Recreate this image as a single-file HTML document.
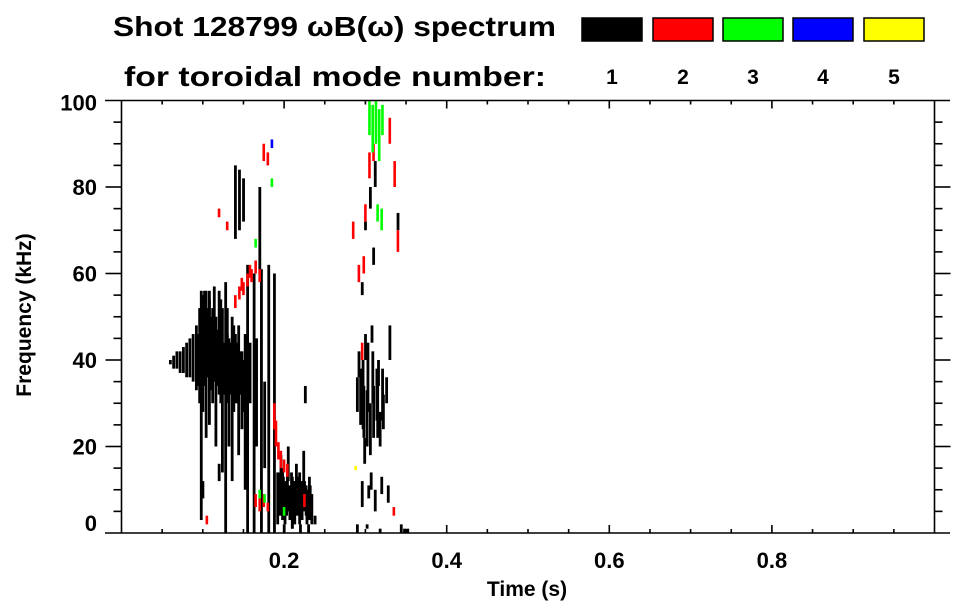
<!DOCTYPE html>
<html><head><meta charset="utf-8"><style>
html,body{margin:0;padding:0;background:#fff;}
svg{display:block;font-family:"Liberation Sans",Arial,sans-serif;font-weight:bold;}
</style></head><body>
<svg id="chart" width="963" height="615" viewBox="0 0 963 615" xmlns="http://www.w3.org/2000/svg">
<rect x="0" y="0" width="963" height="615" fill="#fff"/>
<g>
<text x="113" y="36" font-size="28" textLength="443" lengthAdjust="spacingAndGlyphs">Shot 128799 ωB(ω) spectrum</text>
<text x="124" y="86" font-size="28" textLength="422" lengthAdjust="spacingAndGlyphs">for toroidal mode number:</text>
</g>
<g id="legend"></g>
<g id="marks"></g>
<g id="axes"></g>
<text transform="translate(31,315) rotate(-90)" text-anchor="middle" font-size="21">Frequency (kHz)</text>
<text x="527" y="596" text-anchor="middle" font-size="21">Time (s)</text>
</svg>
<script>
// ---- data ----
const modeLabels = ["1","2","3","4","5"];
const modeColors = ["#000000","#ff0000","#00ff00","#0000ff","#ffff00"];
const xTickValues = [0.2,0.4,0.6,0.8];
const yTickValues = [0,20,40,60,80,100];
// mode 1 (black) segments: time (s), freq low/high (kHz)
const m1Time = [0.060,0.064,0.068,0.072,0.076,0.080,0.084,0.088,0.092,0.096,0.098,0.100,0.104,0.108,0.112,0.116,0.120,0.124,0.128,0.132,0.136,0.140,0.144,0.148,0.152,0.155,0.158,0.163,0.166,0.172,0.176,0.181,0.188,0.140,0.145,0.150,0.170,0.192,0.195,0.198,0.201,0.204,0.207,0.210,0.213,0.216,0.219,0.222,0.225,0.228,0.231,0.234,0.196,0.205,0.215,0.224,0.200,0.210,0.220,0.230,0.290,0.294,0.298,0.302,0.306,0.310,0.314,0.318,0.322,0.326,0.292,0.300,0.308,0.316,0.296,0.304,0.312,0.320,0.328,0.290,0.302,0.318,0.296,0.310,0.330,0.344,0.352,0.300,0.306,0.312,0.340,0.348,0.238,0.226,0.120,0.100,
 0.094,0.102,0.106,0.110,0.114,0.118,0.122,0.126,0.130,0.134,0.138,0.142,0.146,0.150,0.102,0.108,0.114,0.122,0.130,0.138,0.193,0.199,0.203,0.209,0.212,0.218,0.221,0.227,0.232,0.297,0.303,0.309,0.315,0.321,0.299,0.307];
const m1Low  = [39,38,38,37,37,36,36,35,33,30,3,28,22,25,30,20,32,14,0,20,12,30,18,24,10,0,30,0,20,0,15,0,0,68,70,72,60,2,4,3,2,5,3,1,2,4,2,3,5,2,3,2,9,12,10,11,0,1,0,0,28,25,22,20,18,22,26,20,24,30,36,40,44,34,6,8,5,9,7,0,1,0,55,62,40,0,0,70,75,80,70,0,2,30,12,8,
 34,34,36,33,35,34,30,32,30,32,28,30,32,28,44,46,48,42,40,38,5,6,4,5,4,5,6,4,5,24,28,30,22,26,16,10];
const m1High = [40,41,42,42,43,44,45,46,48,52,56,55,56,54,52,50,56,52,58,45,50,46,48,42,46,62,44,60,45,61,35,62,60,85,84,82,80,14,13,15,12,14,11,13,12,10,14,11,12,10,13,9,18,20,16,19,2,3,2,2,36,38,34,33,30,34,38,28,32,36,42,46,48,40,12,11,10,13,11,2,2,1,58,66,48,2,1,72,80,86,74,1,4,34,16,12,
 46,50,52,50,48,47,46,44,46,44,42,44,42,40,56,56,57,54,52,48,14,13,12,14,12,13,12,11,11,40,44,42,36,38,22,14];
// mode 2 (red)
const m2Time = [0.140,0.145,0.150,0.155,0.160,0.165,0.170,0.188,0.190,0.193,0.196,0.200,0.204,0.165,0.170,0.175,0.180,0.120,0.180,0.130,0.175,0.225,0.285,0.292,0.300,0.305,0.298,0.310,0.330,0.336,0.340,0.296,0.335,0.105,0.148,0.158];
const m2Low  = [52,54,55,57,58,60,58,24,20,17,15,14,13,6,5,6,5,73,85,70,86,6,68,58,72,82,60,86,90,80,65,40,4,2,56,59];
const m2High = [55,57,58,60,61,63,61,30,26,21,19,17,16,9,8,9,7,75,88,72,90,9,72,62,76,88,64,90,96,86,70,44,6,4,59,62];
// mode 3 (green)
const m3Time = [0.305,0.309,0.313,0.317,0.321,0.315,0.320,0.170,0.176,0.200,0.185,0.165];
const m3Low  = [92,88,90,86,92,72,70,8,7,4,80,66];
const m3High = [100,99,100,98,99,76,75,10,9,6,82,68];
// mode 4 (blue)
const m4Time = [0.185];
const m4Low  = [89];
const m4High = [91];
// mode 5 (yellow)
const m5Time = [0.288];
const m5Low  = [14.5];
const m5High = [15.5];

// ---- axes functions ----
const X0=121.5, X1=934.5, Y0=533, Y1=100.5;
const xS = t => X0 + t*(X1-X0)/1.0;
const yS = f => Y0 - f*(Y0-Y1)/100;
const NS="http://www.w3.org/2000/svg";
function mk(tag, attrs, parent){const e=document.createElementNS(NS,tag);for(const k in attrs)e.setAttribute(k,attrs[k]);parent.appendChild(e);return e;}

// ---- marks ----
const marks=document.getElementById('marks');
const series=[[m1Time,m1Low,m1High],[m2Time,m2Low,m2High],[m3Time,m3Low,m3High],[m4Time,m4Low,m4High],[m5Time,m5Low,m5High]];
series.forEach((s,mi)=>{
  s[0].forEach((t,i)=>{
    const y0=yS(s[2][i]), y1=yS(s[1][i]);
    const r=mk('rect',{x:xS(t)-1.3,y:y0,width:mi===0?2.8:2.6,height:Math.max(1.5,y1-y0),fill:modeColors[mi]},marks);
    
    
  });
});

// ---- legend ----
const leg=document.getElementById('legend');
const legX=[582,653,723,793,864];
modeLabels.forEach((lab,i)=>{
  const b=mk('rect',{x:legX[i],y:18,width:60,height:23,fill:modeColors[i],stroke:'#000','stroke-width':1.5},leg);
  
  
  const t=mk('text',{x:legX[i]+30,y:84,'text-anchor':'middle','font-size':21},leg);
  t.textContent=lab;
  
  
});

// ---- axes ----
const ax=document.getElementById('axes');
const ln=(x1,y1,x2,y2,name)=>{const l=mk('line',{x1,y1,x2,y2,stroke:'#000','stroke-width':1.6},ax);return l;};
ln(105,Y0,950,Y0,'x-axis-line');
ln(105,Y1,950,Y1,'x-axis-top-line');
ln(X0,Y1,X0,Y0,'y-axis-line');
ln(X1,Y1,X1,Y0,'y-axis-right-line');
for(let k=1;k<20;k++){
  const t=k*0.05, x=xS(t), major=(k%4===0);
  const len=major?8:4;
  ln(x,Y0,x,Y0-len,'x-tick');
  ln(x,Y1,x,Y1+len,'x-tick-top');
}
for(let k=1;k<20;k++){
  const f=k*5, y=yS(f), major=(k%4===0);
  const len=major?16:8;
  ln(X0,y,X0-len,y,'y-tick');
  ln(X1,y,X1+len,y,'y-tick-right');
}
xTickValues.forEach(v=>{
  const t=mk('text',{x:xS(v),y:568,'text-anchor':'middle','font-size':22},ax);
  t.textContent=v.toFixed(1);
  
  
});
yTickValues.forEach(v=>{
  const yy = v===0 ? yS(v)-2 : yS(v)+8;
  const t=mk('text',{x:97,y:v===100?yS(v)+10:yy,'text-anchor':'end','font-size':22},ax);
  t.textContent=String(v);
  
  
});
</script>
</body></html>
